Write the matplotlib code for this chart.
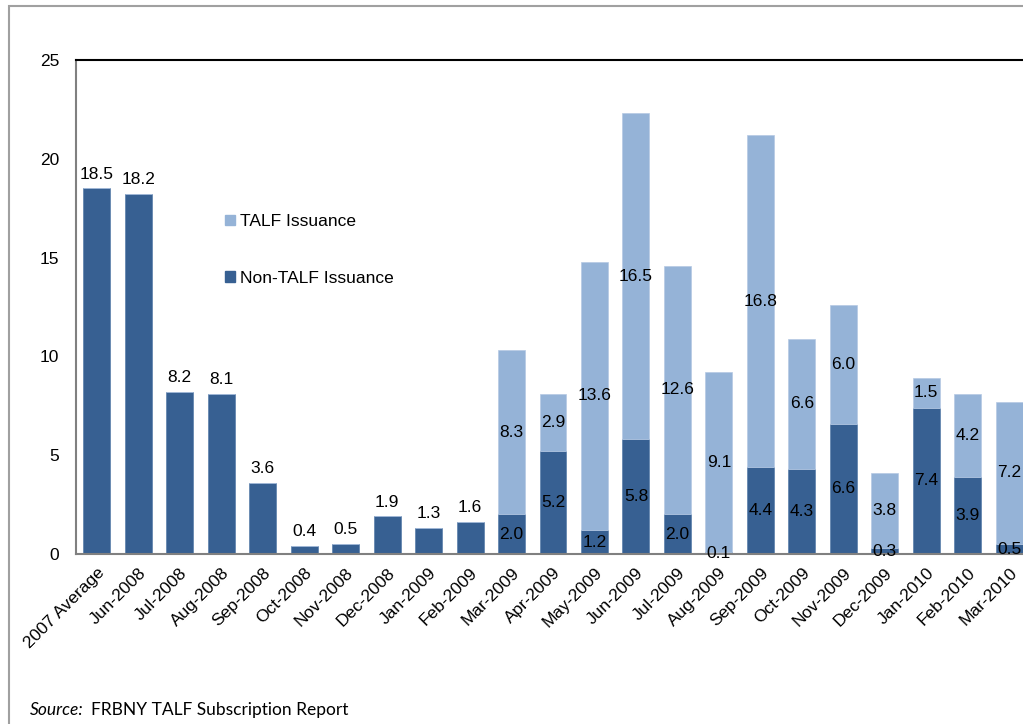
import numpy as np
import matplotlib.pyplot as plt
from matplotlib.patches import Rectangle, Patch

months = ['2007 Average', 'Jun-2008', 'Jul-2008', 'Aug-2008', 'Sep-2008', 'Oct-2008',
          'Nov-2008', 'Dec-2008', 'Jan-2009', 'Feb-2009', 'Mar-2009', 'Apr-2009',
          'May-2009', 'Jun-2009', 'Jul-2009', 'Aug-2009', 'Sep-2009', 'Oct-2009',
          'Nov-2009', 'Dec-2009', 'Jan-2010', 'Feb-2010', 'Mar-2010']
non_talf = [18.5, 18.2, 8.2, 8.1, 3.6, 0.4, 0.5, 1.9, 1.3, 1.6,
            2.0, 5.2, 1.2, 5.8, 2.0, 0.1, 4.4, 4.3, 6.6, 0.3, 7.4, 3.9, 0.5]
talf = [0, 0, 0, 0, 0, 0, 0, 0, 0, 0,
        8.3, 2.9, 13.6, 16.5, 12.6, 9.1, 16.8, 6.6, 6.0, 3.8, 1.5, 4.2, 7.2]

dark = '#376092'
light = '#95B3D7'
fs = 12.5

plt.rcParams['font.family'] = ['Liberation Sans', 'DejaVu Sans']

fig = plt.figure(figsize=(10.23, 7.24), dpi=100)
ax = fig.add_axes([76 / 1023, 1 - 554 / 724, 954 / 1023, 494 / 724])

x = np.arange(len(months))
nt = np.array(non_talf)
t = np.array(talf)
ax.bar(x, nt, width=0.65, color=dark, edgecolor='#5a7fab', linewidth=0.5)
ax.bar(x, t, width=0.65, bottom=nt, color=light, edgecolor='#b5c9e4', linewidth=0.5)

for i in range(len(months)):
    if t[i] == 0:
        ax.text(x[i], nt[i] + 0.35, f'{nt[i]:.1f}', ha='center', va='bottom', fontsize=fs)
    else:
        ax.text(x[i], nt[i] / 2, f'{nt[i]:.1f}', ha='center', va='center', fontsize=fs)
        ax.text(x[i], nt[i] + t[i] / 2, f'{t[i]:.1f}', ha='center', va='center', fontsize=fs)

ax.set_xlim(-0.5, len(months) - 0.5)
ax.set_ylim(0, 25)
ax.set_yticks([0, 5, 10, 15, 20, 25])
ax.set_xticks(x)
ax.set_xticklabels(months, rotation=45, ha='right', rotation_mode='anchor', fontsize=fs)
ax.tick_params(axis='both', length=0, labelsize=fs)
ax.tick_params(axis='y', pad=12)
ax.tick_params(axis='x', pad=8)

ax.spines['top'].set_color('black')
ax.spines['top'].set_linewidth(1.5)
for s in ['left', 'bottom']:
    ax.spines[s].set_color('#808080')
    ax.spines[s].set_linewidth(1.5)
ax.spines['right'].set_visible(False)

handles = [Patch(color=light, label='TALF Issuance'),
           Patch(color=dark, label='Non-TALF Issuance')]
ax.legend(handles=handles, loc='upper left', bbox_to_anchor=(0.14, 0.72), frameon=False,
          fontsize=fs, handlelength=0.55, handleheight=0.55, handletextpad=0.3,
          labelspacing=2.4)

# outer chart border
fig.patches.append(Rectangle((9 / 1023, -0.1), 1.2, 1.1 - 6 / 724, transform=fig.transFigure,
                             fill=False, edgecolor='#a0a0a0', linewidth=1.5))

fig.text(30 / 1023, 1 - 710 / 724, 'Source:', fontsize=12.5, style='italic',
         family=['Lato', 'DejaVu Sans'], va='center')
fig.text(91 / 1023, 1 - 710 / 724, 'FRBNY TALF Subscription Report', fontsize=12.5,
         family=['Lato', 'DejaVu Sans'], va='center')

fig.savefig('out.png', dpi=100)
